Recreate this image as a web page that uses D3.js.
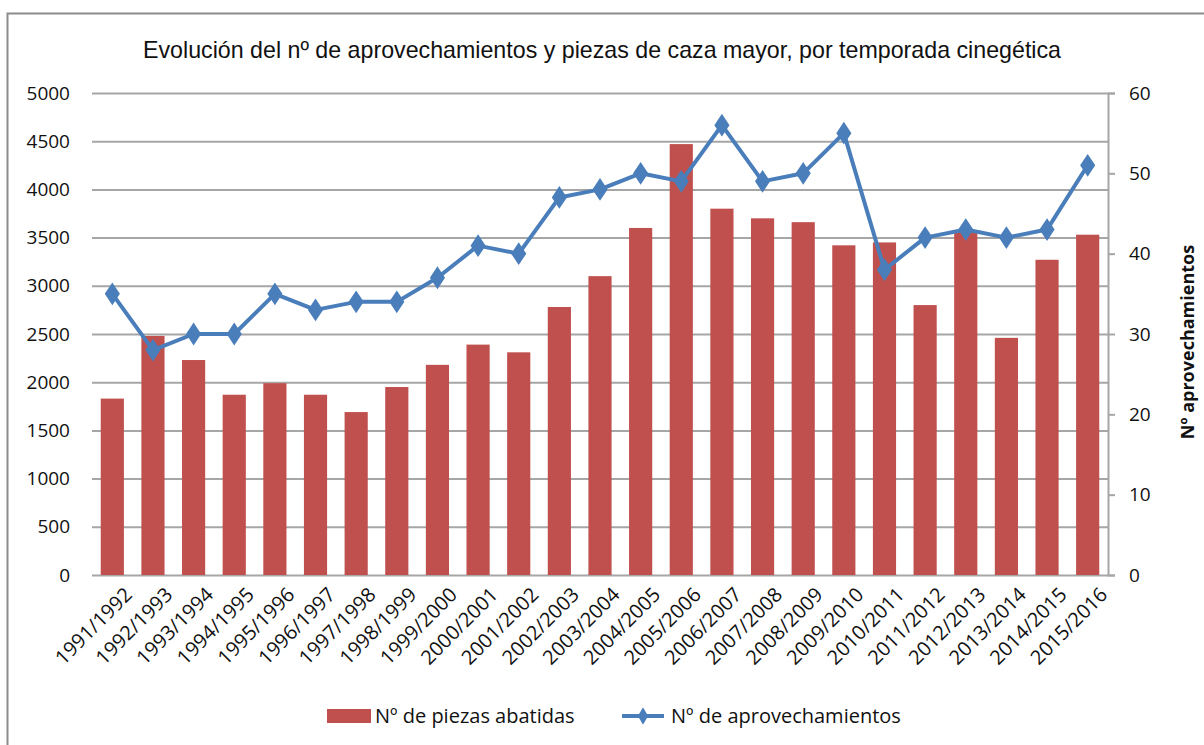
<!DOCTYPE html>
<html>
<head>
<meta charset="utf-8">
<script src="https://cdn.jsdelivr.net/npm/d3@7"></script>
<style>
  body { margin: 0; background: #fff; }
  text { font-family: "Open Sans", "Liberation Sans", sans-serif; }
</style>
</head>
<body>
<div id="chart"></div>
<script>
// Seasons and values
const seasons = ["1991/1992","1992/1993","1993/1994","1994/1995","1995/1996","1996/1997","1997/1998",
  "1998/1999","1999/2000","2000/2001","2001/2002","2002/2003","2003/2004","2004/2005","2005/2006",
  "2006/2007","2007/2008","2008/2009","2009/2010","2010/2011","2011/2012","2012/2013","2013/2014",
  "2014/2015","2015/2016"];
const piezas = [1830, 2480, 2230, 1870, 1990, 1870, 1690, 1950, 2180, 2390, 2310, 2780, 3100, 3600, 4470,
  3800, 3700, 3660, 3420, 3450, 2800, 3560, 2460, 3270, 3530];
const aprovechamientos = [35, 28, 30, 30, 35, 33, 34, 34, 37, 41, 40, 47, 48, 50, 49,
  56, 49, 50, 55, 38, 42, 43, 42, 43, 51];
const leftTicks = [0, 500, 1000, 1500, 2000, 2500, 3000, 3500, 4000, 4500, 5000];
const rightTicks = [0, 10, 20, 30, 40, 50, 60];

const W = 1204, H = 745;
const margin = { top: 93, right: 96, bottom: 170, left: 92 };
const width = W - margin.left - margin.right,
      height = H - margin.top - margin.bottom;

const barColor = "#C0504D";
const lineColor = "#4A7EBB";
const gridColor = "#A6A6A6";

const svg = d3.select("#chart").append("svg")
    .attr("width", W).attr("height", H);

// outer frame
svg.append("rect")
    .attr("x", 7.5).attr("y", 13.5)
    .attr("width", W + 10).attr("height", H + 10)
    .attr("fill", "none").attr("stroke", "#8C8C8C").attr("stroke-width", 2);

// title
svg.append("text")
    .attr("x", 143).attr("y", 58)
    .attr("textLength", 918).attr("lengthAdjust", "spacingAndGlyphs")
    .style("font-family", "'Liberation Sans', sans-serif")
    .style("font-size", "24px")
    .attr("fill", "#111")
    .text("Evolución del nº de aprovechamientos y piezas de caza mayor, por temporada cinegética");

const g = svg.append("g").attr("transform", `translate(${margin.left},${margin.top})`);

const x = d3.scaleBand().domain(seasons).range([0, width]).paddingInner(0.43).paddingOuter(0.215);
const y = d3.scaleLinear().domain([0, 5000]).range([height, 0]);
const y2 = d3.scaleLinear().domain([0, 60]).range([height, 0]);

// gridlines
g.selectAll(".grid")
    .data(leftTicks)
    .enter().append("line")
    .attr("x1", 0).attr("x2", width)
    .attr("y1", d => y(d) + 0.5).attr("y2", d => y(d) + 0.5)
    .attr("stroke", gridColor).attr("stroke-width", 2);

// bars
g.selectAll(".bar")
    .data(seasons)
    .enter().append("rect")
    .attr("x", d => x(d))
    .attr("y", (d, i) => y(piezas[i]))
    .attr("width", x.bandwidth())
    .attr("height", (d, i) => height - y(piezas[i]))
    .attr("fill", barColor);

// left axis (labels only)
g.append("g")
    .call(d3.axisLeft(y).tickValues(leftTicks).tickFormat(d3.format("d")).tickSize(0).tickPadding(22))
    .call(a => a.select(".domain").remove())
    .selectAll("text")
    .style("font-size", "19px").attr("fill", "#111");

// right axis
const ra = g.append("g")
    .attr("transform", `translate(${width},0)`)
    .call(d3.axisRight(y2).tickValues(rightTicks).tickSize(7).tickPadding(14));
ra.select(".domain").attr("stroke", gridColor).attr("stroke-width", 2);
ra.selectAll(".tick line").attr("stroke", gridColor).attr("stroke-width", 2);
ra.selectAll("text").style("font-size", "19px").attr("fill", "#111");

// right axis title
svg.append("text")
    .attr("transform", `translate(1194,${margin.top + height / 2 + 8}) rotate(-90)`)
    .attr("text-anchor", "middle")
    .style("font-size", "18px").style("font-weight", "bold")
    .attr("fill", "#111")
    .text("Nº aprovechamientos");

// x axis labels
g.append("g")
    .attr("transform", `translate(0,${height})`)
    .call(d3.axisBottom(x).tickSize(0).tickPadding(0))
    .call(a => a.select(".domain").remove())
    .selectAll("text")
    .attr("text-anchor", "end")
    .attr("dy", 0)
    .attr("transform", "translate(21,21) rotate(-45)")
    .style("font-size", "20px").attr("fill", "#111");

// line
const line = d3.line()
    .x((d, i) => x(seasons[i]) + x.bandwidth() / 2)
    .y(d => y2(d));

g.append("path")
    .datum(aprovechamientos)
    .attr("d", line)
    .attr("fill", "none")
    .attr("stroke", lineColor)
    .attr("stroke-width", 4)
    .attr("stroke-linejoin", "round");

const diamond = d3.symbol().type(d3.symbolDiamond).size(150);
g.selectAll(".marker")
    .data(aprovechamientos)
    .enter().append("path")
    .attr("d", diamond)
    .attr("transform", (d, i) => `translate(${x(seasons[i]) + x.bandwidth() / 2},${y2(d)}) scale(1.15,1)`)
    .attr("fill", lineColor);

// legend
const lg = svg.append("g").attr("transform", "translate(327,716)");
lg.append("rect").attr("x", 0).attr("y", -7).attr("width", 44).attr("height", 14).attr("fill", barColor);
lg.append("text").attr("x", 48).attr("y", 7)
    .style("font-size", "20px").attr("fill", "#111").text("Nº de piezas abatidas");
lg.append("line").attr("x1", 295).attr("x2", 337).attr("y1", 0).attr("y2", 0)
    .attr("stroke", lineColor).attr("stroke-width", 4);
lg.append("path").attr("d", d3.symbol().type(d3.symbolDiamond).size(90))
    .attr("transform", "translate(316,0)").attr("fill", lineColor);
lg.append("text").attr("x", 344).attr("y", 7)
    .style("font-size", "20px").attr("fill", "#111").text("Nº de aprovechamientos");
</script>
</body>
</html>
